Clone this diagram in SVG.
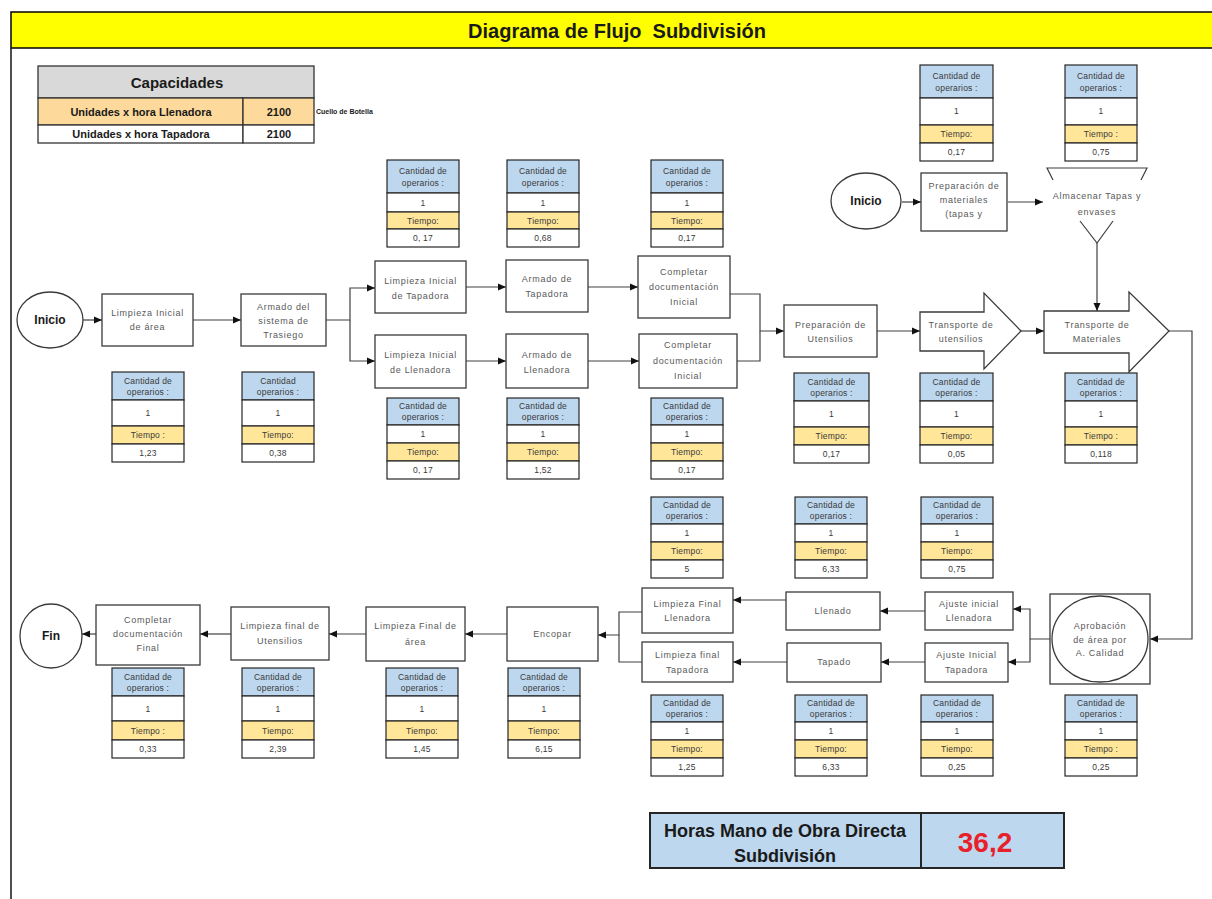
<svg xmlns="http://www.w3.org/2000/svg" width="1212" height="899" viewBox="0 0 1212 899">
<style>
.n{fill:#fff;stroke:#3a3a3a;stroke-width:1.3}
.nt{font-family:"Liberation Sans",Arial,sans-serif;font-size:9px;fill:#595959;text-anchor:middle;letter-spacing:0.7px}
.bt{font-family:"Liberation Sans",Arial,sans-serif;font-weight:bold;fill:#1a1a1a;text-anchor:middle}
.hb{fill:#bdd7ee;stroke:#262626;stroke-width:1.2}
.wb{fill:#fff;stroke:#262626;stroke-width:1.2}
.yb{fill:#ffe699;stroke:#262626;stroke-width:1.2}
.it{font-family:"Liberation Sans",Arial,sans-serif;font-size:8.5px;fill:#3a3a3a;text-anchor:middle;letter-spacing:0.2px}
.c{fill:none;stroke:#404040;stroke-width:1.2}
.a{marker-end:url(#ah)}
</style>
<defs>
<marker id="ah" viewBox="0 0 8 8" refX="8" refY="4" markerWidth="8" markerHeight="8" markerUnits="userSpaceOnUse" orient="auto">
<path d="M0,0.5 L8,4 L0,7.5 z" fill="#111"/>
</marker>
</defs>
<rect x="0" y="0" width="1212" height="899" fill="#fff"/>
<g id="frame">
<rect x="11" y="12" width="1210" height="36" fill="#ffff00" stroke="#111" stroke-width="1.6"/>
<line x1="11" y1="48" x2="11" y2="899" stroke="#222" stroke-width="1.6"/>
<text x="617" y="38" class="bt" font-size="20" xml:space="preserve">Diagrama de Flujo  Subdivisión</text>
</g>
<g id="capacidades">
<rect x="38" y="66" width="276" height="32" fill="#d9d9d9" stroke="#333" stroke-width="1.3"/>
<rect x="38" y="98" width="205" height="27" fill="#fdd99b" stroke="#333" stroke-width="1.3"/>
<rect x="243" y="98" width="71" height="27" fill="#fdd99b" stroke="#333" stroke-width="1.3"/>
<rect x="38" y="125" width="205" height="18" fill="#fff" stroke="#333" stroke-width="1.3"/>
<rect x="243" y="125" width="71" height="18" fill="#fff" stroke="#333" stroke-width="1.3"/>
<text x="177" y="88" class="bt" font-size="15">Capacidades</text>
<text x="141" y="116" class="bt" font-size="11">Unidades x hora Llenadora</text>
<text x="279" y="116" class="bt" font-size="11">2100</text>
<text x="141" y="138" class="bt" font-size="11">Unidades x hora Tapadora</text>
<text x="279" y="138" class="bt" font-size="11">2100</text>
<text x="316" y="114" class="bt" font-size="7" style="text-anchor:start">Cuello de Botella</text>
</g>
<g id="connectors">
<path class="c a" d="M83,320 H102"/>
<path class="c a" d="M193,320 H241"/>
<path class="c a" d="M326,320 H350 V288 H375"/>
<path class="c a" d="M350,320 V361 H375"/>
<path class="c a" d="M466,287 H506"/>
<path class="c a" d="M588,287 H638"/>
<path class="c a" d="M466,361 H506"/>
<path class="c a" d="M588,361 H639"/>
<path class="c a" d="M730,294 H760 V331 H784"/>
<path class="c" d="M737,361 H760 V331"/>
<path class="c a" d="M877,331 H920"/>
<path class="c a" d="M1021,331 H1044"/>
<path class="c a" d="M902,202 H921"/>
<path class="c a" d="M1008,202 H1043"/>
<path class="c a" d="M1097,243 V311"/>
<path class="c a" d="M1169,331 H1192 V639 H1150"/>
<path class="c a" d="M1050,639 H1030 V609 H1013"/>
<path class="c a" d="M1030,639 V662 H1008"/>
<path class="c a" d="M925,611 H880"/>
<path class="c a" d="M786,600 H733"/>
<path class="c a" d="M925,662 H881"/>
<path class="c a" d="M787,662 H733"/>
<path class="c a" d="M642,612 H619 V635 H598"/>
<path class="c" d="M642,662 H619 V635"/>
<path class="c a" d="M507,634 H465"/>
<path class="c a" d="M366,634 H329"/>
<path class="c a" d="M231,634 H200"/>
<path class="c a" d="M96,634 H82"/>
</g>
<g id="inicio-1"><ellipse class="n" cx="50" cy="320" rx="33" ry="28"/><text x="50" y="324" class="bt" font-size="12">Inicio</text></g>
<g id="limpieza-inicial-area"><rect class="n" x="102" y="294" width="91" height="52"/><text class="nt" x="147.5" y="316">Limpieza Inicial</text><text class="nt" x="147.5" y="330">de área</text></g>
<g id="armado-sistema"><rect class="n" x="241" y="294" width="85" height="52"/><text class="nt" x="283.5" y="310">Armado del</text><text class="nt" x="283.5" y="324">sistema de</text><text class="nt" x="283.5" y="338">Trasiego</text></g>
<g id="limpieza-tapadora"><rect class="n" x="375" y="261" width="91" height="52"/><text class="nt" x="420.5" y="284">Limpieza Inicial</text><text class="nt" x="420.5" y="299">de Tapadora</text></g>
<g id="armado-tapadora"><rect class="n" x="506" y="260" width="82" height="52"/><text class="nt" x="547" y="282">Armado de</text><text class="nt" x="547" y="297">Tapadora</text></g>
<g id="completar-inicial-1"><rect class="n" x="638" y="256" width="92" height="62"/><text class="nt" x="684" y="275">Completar</text><text class="nt" x="684" y="290">documentación</text><text class="nt" x="684" y="305">Inicial</text></g>
<g id="limpieza-llenadora"><rect class="n" x="375" y="335" width="91" height="53"/><text class="nt" x="420.5" y="358">Limpieza Inicial</text><text class="nt" x="420.5" y="373">de Llenadora</text></g>
<g id="armado-llenadora"><rect class="n" x="506" y="334" width="82" height="54"/><text class="nt" x="547" y="358">Armado de</text><text class="nt" x="547" y="373">Llenadora</text></g>
<g id="completar-inicial-2"><rect class="n" x="639" y="334" width="98" height="54"/><text class="nt" x="688" y="348">Completar</text><text class="nt" x="688" y="364">documentación</text><text class="nt" x="688" y="379">Inicial</text></g>
<g id="prep-utensilios"><rect class="n" x="784" y="305" width="93" height="52"/><text class="nt" x="830.5" y="328">Preparación de</text><text class="nt" x="830.5" y="342">Utensilios</text></g>
<g id="transporte-utensilios"><polygon class="n" points="920,312 984,312 984,293 1021,331 984,369 984,351 920,351"/><text class="nt" x="961" y="328">Transporte de</text><text class="nt" x="961" y="342">utensilios</text></g>
<g id="transporte-materiales"><polygon class="n" points="1044,311 1129,311 1129,292 1169,331 1129,372 1129,353 1044,353"/><text class="nt" x="1097" y="328">Transporte de</text><text class="nt" x="1097" y="342">Materiales</text></g>
<g id="inicio-2"><ellipse class="n" cx="866" cy="201" rx="35" ry="28"/><text x="866" y="205" class="bt" font-size="12">Inicio</text></g>
<g id="prep-materiales"><rect class="n" x="921" y="173" width="86" height="58"/><text class="nt" x="964" y="189">Preparación de</text><text class="nt" x="964" y="203">materiales</text><text class="nt" x="964" y="217">(tapas y</text></g>
<g id="almacenar"><path class="c" d="M1053,180 L1047,168 H1147 L1141,180 M1080,221 L1097,243 L1113,221" stroke-width="1.3"/><text class="nt" x="1097" y="199">Almacenar Tapas y</text><text class="nt" x="1097" y="215">envases</text></g>
<g id="aprobacion"><rect class="n" x="1050" y="594" width="100" height="90"/><ellipse class="n" cx="1100" cy="639" rx="48" ry="43"/><text class="nt" x="1100" y="629">Aprobación</text><text class="nt" x="1100" y="643">de área por</text><text class="nt" x="1100" y="656">A. Calidad</text></g>
<g id="ajuste-llenadora"><rect class="n" x="925" y="592" width="88" height="38"/><text class="nt" x="969" y="607">Ajuste inicial</text><text class="nt" x="969" y="621">Llenadora</text></g>
<g id="ajuste-tapadora"><rect class="n" x="925" y="643" width="83" height="39"/><text class="nt" x="966.5" y="658">Ajuste Inicial</text><text class="nt" x="966.5" y="673">Tapadora</text></g>
<g id="llenado"><rect class="n" x="786" y="592" width="94" height="38"/><text class="nt" x="833" y="614">Llenado</text></g>
<g id="tapado"><rect class="n" x="787" y="643" width="94" height="39"/><text class="nt" x="834" y="665">Tapado</text></g>
<g id="limpieza-final-llenadora"><rect class="n" x="642" y="588" width="91" height="45"/><text class="nt" x="687.5" y="607">Limpieza Final</text><text class="nt" x="687.5" y="621">Llenadora</text></g>
<g id="limpieza-final-tapadora"><rect class="n" x="642" y="642" width="91" height="40"/><text class="nt" x="687.5" y="658">Limpieza final</text><text class="nt" x="687.5" y="673">Tapadora</text></g>
<g id="encopar"><rect class="n" x="507" y="607" width="91" height="54"/><text class="nt" x="552.5" y="637">Encopar</text></g>
<g id="limpieza-final-area"><rect class="n" x="366" y="607" width="99" height="54"/><text class="nt" x="415.5" y="629">Limpieza Final de</text><text class="nt" x="415.5" y="645">área</text></g>
<g id="limpieza-final-utensilios"><rect class="n" x="231" y="607" width="98" height="53"/><text class="nt" x="280" y="629">Limpieza final de</text><text class="nt" x="280" y="644">Utensilios</text></g>
<g id="completar-final"><rect class="n" x="96" y="605" width="104" height="60"/><text class="nt" x="148" y="623">Completar</text><text class="nt" x="148" y="637">documentación</text><text class="nt" x="148" y="651">Final</text></g>
<g id="fin"><ellipse class="n" cx="51" cy="636" rx="31" ry="32"/><text x="51" y="640" class="bt" font-size="12">Fin</text></g>

<g id="info-a" transform="translate(387,160)"><rect class="hb" width="72" height="33"/><rect class="wb" y="33" width="72" height="19"/><rect class="yb" y="52" width="72" height="17"/><rect class="wb" y="69" width="72" height="18"/><text class="it" x="36" y="14">Cantidad de</text><text class="it" x="36" y="26">operarios :</text><text class="it" x="36" y="46">1</text><text class="it" x="36" y="64">Tiempo:</text><text class="it" x="36" y="81">0, 17</text></g>
<g id="info-b" transform="translate(507,160)"><rect class="hb" width="72" height="33"/><rect class="wb" y="33" width="72" height="19"/><rect class="yb" y="52" width="72" height="17"/><rect class="wb" y="69" width="72" height="18"/><text class="it" x="36" y="14">Cantidad de</text><text class="it" x="36" y="26">operarios :</text><text class="it" x="36" y="46">1</text><text class="it" x="36" y="64">Tiempo:</text><text class="it" x="36" y="81">0,68</text></g>
<g id="info-c" transform="translate(651,160)"><rect class="hb" width="72" height="33"/><rect class="wb" y="33" width="72" height="19"/><rect class="yb" y="52" width="72" height="17"/><rect class="wb" y="69" width="72" height="18"/><text class="it" x="36" y="14">Cantidad de</text><text class="it" x="36" y="26">operarios :</text><text class="it" x="36" y="46">1</text><text class="it" x="36" y="64">Tiempo:</text><text class="it" x="36" y="81">0,17</text></g>
<g id="info-d" transform="translate(920,65)"><rect class="hb" width="73" height="33"/><rect class="wb" y="33" width="73" height="27"/><rect class="yb" y="60" width="73" height="18"/><rect class="wb" y="78" width="73" height="18"/><text class="it" x="36.5" y="14">Cantidad de</text><text class="it" x="36.5" y="26">operarios :</text><text class="it" x="36.5" y="49">1</text><text class="it" x="36.5" y="72">Tiempo:</text><text class="it" x="36.5" y="90">0,17</text></g>
<g id="info-e" transform="translate(1065,65)"><rect class="hb" width="72" height="33"/><rect class="wb" y="33" width="72" height="27"/><rect class="yb" y="60" width="72" height="18"/><rect class="wb" y="78" width="72" height="18"/><text class="it" x="36" y="14">Cantidad de</text><text class="it" x="36" y="26">operarios :</text><text class="it" x="36" y="49">1</text><text class="it" x="36" y="72">Tiempo :</text><text class="it" x="36" y="90">0,75</text></g>
<g id="info-f" transform="translate(112,372)"><rect class="hb" width="72" height="28"/><rect class="wb" y="28" width="72" height="26"/><rect class="yb" y="54" width="72" height="18"/><rect class="wb" y="72" width="72" height="18"/><text class="it" x="36" y="12">Cantidad de</text><text class="it" x="36" y="23">operarios :</text><text class="it" x="36" y="44">1</text><text class="it" x="36" y="66">Tiempo :</text><text class="it" x="36" y="84">1,23</text></g>
<g id="info-g" transform="translate(242,372)"><rect class="hb" width="72" height="28"/><rect class="wb" y="28" width="72" height="26"/><rect class="yb" y="54" width="72" height="18"/><rect class="wb" y="72" width="72" height="18"/><text class="it" x="36" y="12">Cantidad</text><text class="it" x="36" y="23">operarios :</text><text class="it" x="36" y="44">1</text><text class="it" x="36" y="66">Tiempo:</text><text class="it" x="36" y="84">0,38</text></g>
<g id="info-k" transform="translate(794,373)"><rect class="hb" width="75" height="28"/><rect class="wb" y="28" width="75" height="26"/><rect class="yb" y="54" width="75" height="18"/><rect class="wb" y="72" width="75" height="18"/><text class="it" x="37.5" y="12">Cantidad de</text><text class="it" x="37.5" y="23">operarios :</text><text class="it" x="37.5" y="44">1</text><text class="it" x="37.5" y="66">Tiempo:</text><text class="it" x="37.5" y="84">0,17</text></g>
<g id="info-l" transform="translate(920,373)"><rect class="hb" width="73" height="28"/><rect class="wb" y="28" width="73" height="26"/><rect class="yb" y="54" width="73" height="18"/><rect class="wb" y="72" width="73" height="18"/><text class="it" x="36.5" y="12">Cantidad de</text><text class="it" x="36.5" y="23">operarios :</text><text class="it" x="36.5" y="44">1</text><text class="it" x="36.5" y="66">Tiempo:</text><text class="it" x="36.5" y="84">0,05</text></g>
<g id="info-m" transform="translate(1065,373)"><rect class="hb" width="72" height="28"/><rect class="wb" y="28" width="72" height="26"/><rect class="yb" y="54" width="72" height="18"/><rect class="wb" y="72" width="72" height="18"/><text class="it" x="36" y="12">Cantidad de</text><text class="it" x="36" y="23">operarios :</text><text class="it" x="36" y="44">1</text><text class="it" x="36" y="66">Tiempo :</text><text class="it" x="36" y="84">0,118</text></g>
<g id="info-u" transform="translate(112,668)"><rect class="hb" width="72" height="28"/><rect class="wb" y="28" width="72" height="25"/><rect class="yb" y="53" width="72" height="19"/><rect class="wb" y="72" width="72" height="18"/><text class="it" x="36" y="12">Cantidad de</text><text class="it" x="36" y="23">operarios :</text><text class="it" x="36" y="44">1</text><text class="it" x="36" y="66">Tiempo :</text><text class="it" x="36" y="84">0,33</text></g>
<g id="info-v" transform="translate(242,668)"><rect class="hb" width="72" height="28"/><rect class="wb" y="28" width="72" height="25"/><rect class="yb" y="53" width="72" height="19"/><rect class="wb" y="72" width="72" height="18"/><text class="it" x="36" y="12">Cantidad de</text><text class="it" x="36" y="23">operarios :</text><text class="it" x="36" y="44">1</text><text class="it" x="36" y="66">Tiempo:</text><text class="it" x="36" y="84">2,39</text></g>
<g id="info-w" transform="translate(386,668)"><rect class="hb" width="72" height="28"/><rect class="wb" y="28" width="72" height="25"/><rect class="yb" y="53" width="72" height="19"/><rect class="wb" y="72" width="72" height="18"/><text class="it" x="36" y="12">Cantidad de</text><text class="it" x="36" y="23">operarios :</text><text class="it" x="36" y="44">1</text><text class="it" x="36" y="66">Tiempo:</text><text class="it" x="36" y="84">1,45</text></g>
<g id="info-x" transform="translate(508,668)"><rect class="hb" width="72" height="28"/><rect class="wb" y="28" width="72" height="25"/><rect class="yb" y="53" width="72" height="19"/><rect class="wb" y="72" width="72" height="18"/><text class="it" x="36" y="12">Cantidad de</text><text class="it" x="36" y="23">operarios :</text><text class="it" x="36" y="44">1</text><text class="it" x="36" y="66">Tiempo:</text><text class="it" x="36" y="84">6,15</text></g>
<g id="info-h" transform="translate(387,398)"><rect class="hb" width="72" height="27"/><rect class="wb" y="27" width="72" height="18"/><rect class="yb" y="45" width="72" height="18"/><rect class="wb" y="63" width="72" height="18"/><text class="it" x="36" y="11">Cantidad de</text><text class="it" x="36" y="22">operarios :</text><text class="it" x="36" y="39">1</text><text class="it" x="36" y="57">Tiempo:</text><text class="it" x="36" y="75">0, 17</text></g>
<g id="info-i" transform="translate(507,398)"><rect class="hb" width="72" height="27"/><rect class="wb" y="27" width="72" height="18"/><rect class="yb" y="45" width="72" height="18"/><rect class="wb" y="63" width="72" height="18"/><text class="it" x="36" y="11">Cantidad de</text><text class="it" x="36" y="22">operarios :</text><text class="it" x="36" y="39">1</text><text class="it" x="36" y="57">Tiempo:</text><text class="it" x="36" y="75">1,52</text></g>
<g id="info-j" transform="translate(651,398)"><rect class="hb" width="72" height="27"/><rect class="wb" y="27" width="72" height="18"/><rect class="yb" y="45" width="72" height="18"/><rect class="wb" y="63" width="72" height="18"/><text class="it" x="36" y="11">Cantidad de</text><text class="it" x="36" y="22">operarios :</text><text class="it" x="36" y="39">1</text><text class="it" x="36" y="57">Tiempo:</text><text class="it" x="36" y="75">0,17</text></g>
<g id="info-n" transform="translate(651,497)"><rect class="hb" width="72" height="27"/><rect class="wb" y="27" width="72" height="18"/><rect class="yb" y="45" width="72" height="18"/><rect class="wb" y="63" width="72" height="18"/><text class="it" x="36" y="11">Cantidad de</text><text class="it" x="36" y="22">operarios :</text><text class="it" x="36" y="39">1</text><text class="it" x="36" y="57">Tiempo:</text><text class="it" x="36" y="75">5</text></g>
<g id="info-o" transform="translate(795,497)"><rect class="hb" width="72" height="27"/><rect class="wb" y="27" width="72" height="18"/><rect class="yb" y="45" width="72" height="18"/><rect class="wb" y="63" width="72" height="18"/><text class="it" x="36" y="11">Cantidad de</text><text class="it" x="36" y="22">operarios :</text><text class="it" x="36" y="39">1</text><text class="it" x="36" y="57">Tiempo:</text><text class="it" x="36" y="75">6,33</text></g>
<g id="info-p" transform="translate(921,497)"><rect class="hb" width="72" height="27"/><rect class="wb" y="27" width="72" height="18"/><rect class="yb" y="45" width="72" height="18"/><rect class="wb" y="63" width="72" height="18"/><text class="it" x="36" y="11">Cantidad de</text><text class="it" x="36" y="22">operarios :</text><text class="it" x="36" y="39">1</text><text class="it" x="36" y="57">Tiempo:</text><text class="it" x="36" y="75">0,75</text></g>
<g id="info-q" transform="translate(651,695)"><rect class="hb" width="72" height="27"/><rect class="wb" y="27" width="72" height="18"/><rect class="yb" y="45" width="72" height="18"/><rect class="wb" y="63" width="72" height="18"/><text class="it" x="36" y="11">Cantidad de</text><text class="it" x="36" y="22">operarios :</text><text class="it" x="36" y="39">1</text><text class="it" x="36" y="57">Tiempo:</text><text class="it" x="36" y="75">1,25</text></g>
<g id="info-r" transform="translate(795,695)"><rect class="hb" width="72" height="27"/><rect class="wb" y="27" width="72" height="18"/><rect class="yb" y="45" width="72" height="18"/><rect class="wb" y="63" width="72" height="18"/><text class="it" x="36" y="11">Cantidad de</text><text class="it" x="36" y="22">operarios :</text><text class="it" x="36" y="39">1</text><text class="it" x="36" y="57">Tiempo:</text><text class="it" x="36" y="75">6,33</text></g>
<g id="info-s" transform="translate(921,695)"><rect class="hb" width="72" height="27"/><rect class="wb" y="27" width="72" height="18"/><rect class="yb" y="45" width="72" height="18"/><rect class="wb" y="63" width="72" height="18"/><text class="it" x="36" y="11">Cantidad de</text><text class="it" x="36" y="22">operarios :</text><text class="it" x="36" y="39">1</text><text class="it" x="36" y="57">Tiempo:</text><text class="it" x="36" y="75">0,25</text></g>
<g id="info-t" transform="translate(1065,695)"><rect class="hb" width="72" height="27"/><rect class="wb" y="27" width="72" height="18"/><rect class="yb" y="45" width="72" height="18"/><rect class="wb" y="63" width="72" height="18"/><text class="it" x="36" y="11">Cantidad de</text><text class="it" x="36" y="22">operarios :</text><text class="it" x="36" y="39">1</text><text class="it" x="36" y="57">Tiempo :</text><text class="it" x="36" y="75">0,25</text></g>

<g id="horas">
<rect x="650" y="813" width="271" height="55" fill="#bdd7ee" stroke="#262626" stroke-width="2"/>
<rect x="921" y="813" width="143" height="55" fill="#bdd7ee" stroke="#262626" stroke-width="2"/>
<text x="785" y="837" class="bt" font-size="18">Horas Mano de Obra Directa</text>
<text x="785" y="862" class="bt" font-size="18">Subdivisión</text>
<text x="985" y="852" class="bt" font-size="28" style="fill:#e8202a">36,2</text>
</g>
</svg>
